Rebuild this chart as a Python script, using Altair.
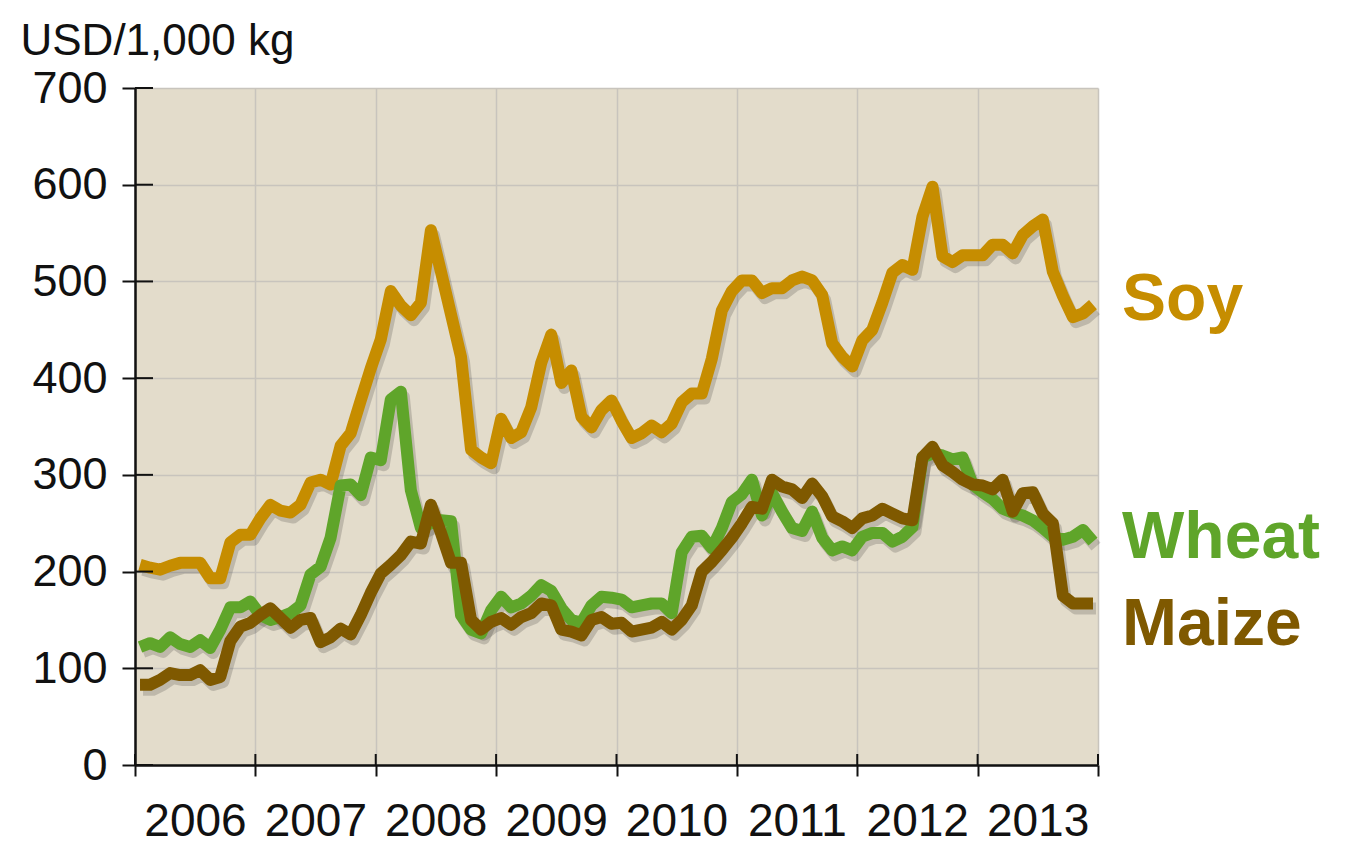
import altair as alt
import pandas as pd

# ---------------- data ----------------
year_ticks = [2006, 2007, 2008, 2009, 2010, 2011, 2012, 2013, 2014]
y_ticks = [0, 100, 200, 300, 400, 500, 600, 700]

# monthly prices, Jan 2006 .. Dec 2013 (USD per 1,000 kg)
soy = [207, 204, 202, 206, 209, 209, 209, 193, 193, 230, 238, 238,
       255, 269, 263, 261, 269, 292, 295, 290, 330, 343, 377, 410,
       440, 490, 475, 465, 478, 553, 510, 466, 422, 326, 318, 312,
       358, 338, 344, 370, 416, 445, 395, 408, 360, 349, 367, 377,
       356, 338, 343, 351, 344, 353, 375, 384, 384, 420, 470, 490,
       501, 501, 488, 493, 493, 501, 505, 501, 486, 436, 422, 412,
       439, 450, 478, 509, 517, 512, 567, 598, 526, 520, 527, 527,
       527, 538, 538, 529, 548, 557, 564, 510, 485, 463, 467, 476]

wheat = [122, 126, 122, 132, 125, 122, 129, 121, 140, 163, 163, 169,
         155, 150, 153, 157, 165, 197, 205, 235, 289, 290, 279, 318,
         315, 378, 386, 284, 245, 250, 253, 252, 155, 140, 136, 160,
         174, 163, 167, 175, 186, 180, 162, 150, 147, 165, 174, 173,
         171, 163, 165, 167, 167, 157, 220, 236, 237, 224, 245, 272,
         280, 295, 258, 281, 262, 245, 242, 262, 235, 222, 226, 222,
         236, 240, 240, 231, 236, 246, 318, 322, 320, 316, 318, 290,
         282, 275, 265, 261, 258, 253, 245, 236, 233, 236, 243, 231]

maize = [83, 83, 88, 95, 93, 93, 98, 88, 91, 128, 143, 147,
         155, 162, 152, 142, 150, 152, 127, 132, 141, 135, 155, 178,
         198, 207, 217, 231, 229, 269, 240, 209, 209, 150, 140, 148,
         152, 145, 153, 157, 167, 165, 140, 138, 134, 150, 153, 146,
         147, 138, 140, 142, 148, 140, 150, 165, 200, 210, 222, 235,
         250, 267, 265, 295, 288, 285, 276, 291, 278, 257, 252, 245,
         255, 258, 265, 260, 255, 253, 318, 329, 310, 303, 295, 290,
         289, 285, 295, 262, 281, 282, 260, 250, 175, 167, 167, 167]

series_names = ["Soy", "Wheat", "Maize"]
series_colors = ["#C68D00", "#5FA52A", "#7F5900"]
label_x = [2014.2, 2014.2, 2014.2]
label_y = [460, 214, 124]

# ---------------- build tables ----------------
rows = []
for name, vals in zip(series_names, [soy, wheat, maize]):
    for i, v in enumerate(vals):
        rows.append({"series": name, "t": 2006 + (i + 0.5) / 12, "value": v})
df = pd.DataFrame(rows)

labels = pd.DataFrame({"series": series_names, "t": label_x, "value": label_y})
yt = pd.DataFrame({"value": y_ticks})
xt = pd.DataFrame({"t": year_ticks})

FONT = "Liberation Sans, Arial, sans-serif"

W, H = 963, 677

x_scale = alt.Scale(domain=[2006, 2014], nice=False, zero=False)
y_scale = alt.Scale(domain=[0, 700], nice=False, zero=True)
color_scale = alt.Scale(domain=series_names, range=series_colors)

x_axis = alt.Axis(values=year_ticks, labelExpr="datum.value >= 2014 ? '' : '' + datum.value",
                  labelOffset=60, labelFont=FONT, labelFontSize=46, labelColor="#111111",
                  labelPadding=23, labelFlush=False, labelOverlap=False,
                  tickColor="#111111", tickSize=11, tickWidth=2,
                  domainColor="#111111", domainWidth=2.5,
                  grid=True, gridColor="#C8C4BD", gridWidth=1.5, title="")

y_axis = alt.Axis(values=y_ticks, labelFont=FONT, labelFontSize=45, labelColor="#111111",
                  labelPadding=15, tickColor="#111111", tickSize=13, tickWidth=2,
                  domainColor="#111111", domainWidth=2.5,
                  grid=True, gridColor="#C8C4BD", gridWidth=1.5,
                  title="USD/1,000 kg", titleAngle=0, titleX=-115, titleY=-34,
                  titleAlign="left", titleBaseline="alphabetic", titleFont=FONT,
                  titleFontSize=44, titleFontWeight="normal", titleColor="#111111")

base = alt.Chart(df)

layers = []
# soft shadows under the lines
first = True
for name in series_names:
    sub = base.transform_filter(alt.datum.series == name)
    if first:
        xe = alt.X("t:Q", scale=x_scale, axis=x_axis)
        ye = alt.Y("value:Q", scale=y_scale, axis=y_axis)
        first = False
    else:
        xe = alt.X("t:Q", scale=x_scale)
        ye = alt.Y("value:Q", scale=y_scale)
    layers.append(sub.mark_line(color="#000000", opacity=0.16, strokeWidth=12,
                                strokeJoin="round", xOffset=3, yOffset=5).encode(x=xe, y=ye))
# the lines
for name, col in zip(series_names, series_colors):
    sub = base.transform_filter(alt.datum.series == name)
    layers.append(sub.mark_line(color=col, strokeWidth=12, strokeJoin="round").encode(
        x=alt.X("t:Q", scale=x_scale),
        y=alt.Y("value:Q", scale=y_scale)))

# inner halves of the crossing ticks
layers.append(alt.Chart(yt).mark_rule(color="#111111", strokeWidth=2).encode(
    y=alt.Y("value:Q", scale=y_scale), x=alt.value(0), x2=alt.value(18)))
layers.append(alt.Chart(xt).mark_rule(color="#111111", strokeWidth=2).encode(
    x=alt.X("t:Q", scale=x_scale), y=alt.value(H - 11), y2=alt.value(H)))

# series labels
layers.append(alt.Chart(labels).mark_text(align="left", baseline="alphabetic", font=FONT,
                                          fontWeight="bold", fontSize=66).encode(
    x=alt.X("t:Q", scale=x_scale),
    y=alt.Y("value:Q", scale=y_scale),
    text="series:N",
    color=alt.Color("series:N", scale=color_scale, legend=None)))

chart = alt.layer(*layers).properties(
    width=W, height=H,
    background="#FFFFFF",
    autosize=alt.AutoSizeParams(type="none"),
    padding={"left": 127, "top": 80, "right": 230, "bottom": 80},
).configure_view(fill="#E3DCCB", stroke=None)

chart.save("out.html", embed_options={"renderer": "svg", "actions": False})
